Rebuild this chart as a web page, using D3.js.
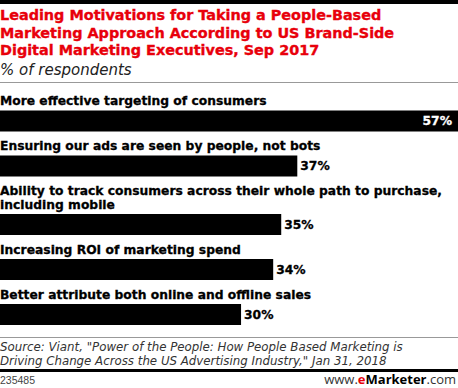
<!DOCTYPE html>
<html>
<head>
<meta charset="utf-8">
<script src="https://cdnjs.cloudflare.com/ajax/libs/d3/7.8.5/d3.min.js"></script>
<style>
  body { margin: 0; background: #fff; }
  svg { display: block; }
</style>
</head>
<body>
<svg id="chart"></svg>
<script>
// chart data
const titleLines = [
    "Leading Motivations for Taking a People-Based",
    "Marketing Approach According to US Brand-Side",
    "Digital Marketing Executives, Sep 2017"
];
const subtitle = "% of respondents";
const categories = [
    "More effective targeting of consumers",
    "Ensuring our ads are seen by people, not bots",
    "Ability to track consumers across their whole path to purchase,\nincluding mobile",
    "Increasing ROI of marketing spend",
    "Better attribute both online and offline sales"
];
const values = [57, 37, 35, 34, 30];
const sourceLines = [
    "Source: Viant, \"Power of the People: How People Based Marketing is",
    "Driving Change Across the US Advertising Industry,\" Jan 31, 2018"
];
const chartId = "235485";

var svgWidth = 458, svgHeight = 388;
var boldFont = "'DejaVu Sans', Verdana, sans-serif";
var lightFont = "'DejaVu Sans', Verdana, sans-serif";

var svg = d3.select("#chart")
    .attr("width", svgWidth)
    .attr("height", svgHeight);

// top rule
svg.append("rect")
    .attr("x", 0).attr("y", 0)
    .attr("width", svgWidth).attr("height", 4)
    .attr("fill", "#000");

// title
svg.append("g")
    .selectAll("text")
    .data(titleLines)
    .join("text")
    .attr("x", 0)
    .attr("y", (d, i) => 20 + i * 17.5)
    .attr("fill", "#e8000b")
    .attr("stroke", "#e8000b")
    .attr("stroke-width", 0.35)
    .attr("font-family", boldFont)
    .attr("font-weight", "bold")
    .attr("font-size", 14.4)
    .text(d => d);

svg.append("text")
    .attr("x", 0).attr("y", 75)
    .attr("font-family", lightFont)
    .attr("font-style", "italic")
    .attr("font-size", 15)
    .attr("fill", "#222")
    .text(subtitle);

svg.append("rect")
    .attr("x", 0).attr("y", 82)
    .attr("width", svgWidth).attr("height", 1)
    .attr("fill", "#999");

// bars
var x = d3.scaleLinear()
    .domain([0, d3.max(values)])
    .range([0, svgWidth]);

var lineH = 13.5, barH = 21;
var rows = [];
var baseline = 105;
categories.forEach((c, i) => {
    var lines = c.split("\n");
    var barTop = baseline + (lines.length - 1) * lineH + 5.5;
    rows.push({ lines: lines, baseline: baseline, barTop: barTop, value: values[i] });
    baseline = barTop + 39.5;
});

var row = svg.append("g")
    .selectAll("g")
    .data(rows)
    .join("g");

row.append("text")
    .attr("font-family", boldFont)
    .attr("font-weight", "bold")
    .attr("font-size", 12.3)
    .attr("fill", "#000")
    .attr("stroke", "#000")
    .attr("stroke-width", 0.3)
    .selectAll("tspan")
    .data(d => d.lines.map((l, j) => ({ text: l, y: d.baseline + j * lineH })))
    .join("tspan")
    .attr("x", 0)
    .attr("y", d => d.y)
    .text(d => d.text);

row.append("rect")
    .attr("x", x(0))
    .attr("y", d => d.barTop)
    .attr("width", d => x(d.value) - x(0))
    .attr("height", barH)
    .attr("fill", "#000");

row.append("text")
    .attr("font-family", boldFont)
    .attr("font-weight", "bold")
    .attr("font-size", 12.3)
    .attr("stroke-width", 0.3)
    .attr("y", d => d.barTop + barH / 2)
    .attr("dy", "0.36em")
    .each(function (d) {
        var inside = x(d.value) > svgWidth - 40;
        var col = inside ? "#fff" : "#000";
        d3.select(this)
            .attr("x", inside ? x(d.value) - 6 : x(d.value) + 3)
            .attr("text-anchor", inside ? "end" : "start")
            .attr("fill", col)
            .attr("stroke", col);
    })
    .text(d => d.value + "%");

// footer
svg.append("rect")
    .attr("x", 0).attr("y", 337)
    .attr("width", svgWidth).attr("height", 1)
    .attr("fill", "#999");

svg.append("g")
    .selectAll("text")
    .data(sourceLines)
    .join("text")
    .attr("x", 0)
    .attr("y", (d, i) => 351 + i * 14)
    .attr("font-family", lightFont)
    .attr("font-style", "italic")
    .attr("font-size", 11.8)
    .attr("fill", "#333")
    .text(d => d);

svg.append("rect")
    .attr("x", 0).attr("y", 369)
    .attr("width", svgWidth).attr("height", 3)
    .attr("fill", "#000");

svg.append("text")
    .attr("x", 0).attr("y", 384)
    .attr("font-family", "'Liberation Sans', Arial, sans-serif")
    .attr("font-size", 10.5)
    .attr("fill", "#444")
    .text(chartId);

var brand = svg.append("text")
    .attr("x", 456).attr("y", 384)
    .attr("text-anchor", "end")
    .attr("font-family", "'Open Sans', Arial, sans-serif")
    .attr("font-size", 13)
    .attr("fill", "#333");
brand.append("tspan").text("www.");
brand.append("tspan").attr("fill", "#e8000b").attr("font-weight", "bold").text("e");
brand.append("tspan").attr("font-weight", "bold").attr("fill", "#000").text("Marketer");
brand.append("tspan").text(".com");
</script>
</body>
</html>
